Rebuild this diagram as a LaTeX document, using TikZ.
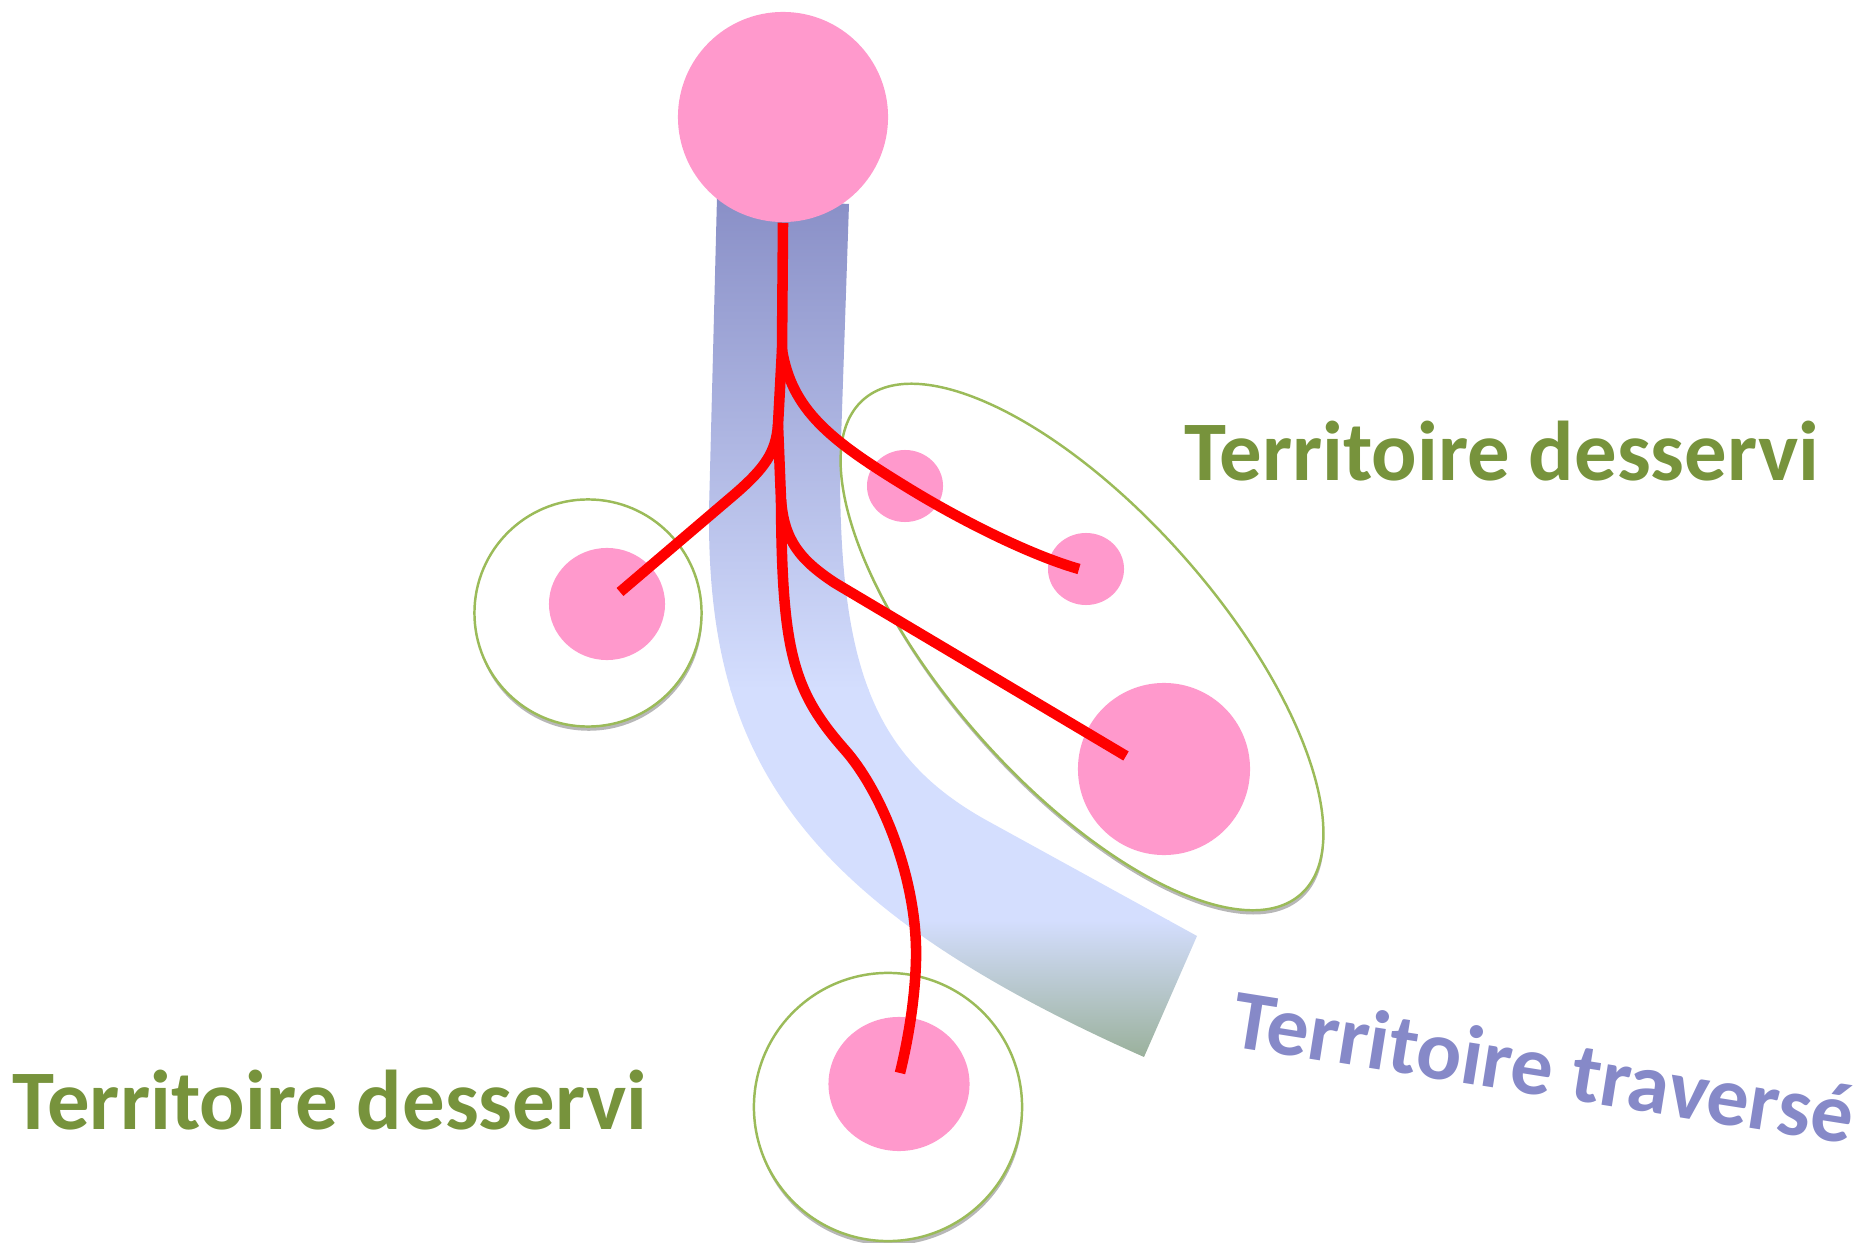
\documentclass[tikz,border=0pt]{standalone}
\usepackage{fontspec}
\usepackage{tikz}
\usetikzlibrary{shapes.geometric, shadows}
\newfontfamily\zonefont{Carlito}
\definecolor{polepink}{HTML}{FF99CC}
\definecolor{zonegreen}{HTML}{9BBB59}
\definecolor{textgreen}{HTML}{77933C}
\definecolor{textmauve}{HTML}{8689C8}
\definecolor{bandtop}{HTML}{888EC6}
\definecolor{bandmid}{HTML}{D4DEFE}
\definecolor{bandlow}{HTML}{97AE96}
\tikzset{
    hub/.style={circle, fill=polepink, inner sep=0pt, minimum size=2.1cm},
    pole/.style={ellipse, fill=polepink, inner sep=0pt},
    zone/.style={draw=zonegreen, line width=0.7pt, fill=white, inner sep=0pt,
        drop shadow={shadow xshift=0.2pt, shadow yshift=-1.2pt, opacity=0.4, fill=black!70}},
    link/.style={draw=red, line width=3pt, line join=round},
    zonetext/.style={inner sep=0pt, font=\zonefont\bfseries\fontsize{24.1}{29}\selectfont}
}

\begin{document}
\begin{tikzpicture}[x=0.01cm, y=-0.01cm]
        \useasboundingbox (0,0) rectangle (1863,1243);

        % Band
        \begin{scope}
            \clip (717,197) -- (709,510) .. controls (707,750) and (790,900) .. (1144,1057)
                -- (1197,936) -- (986,820) .. controls (875,758) and (840,670) .. (840,470)
                -- (849,204) -- cycle;
            \shade[top color=bandtop, bottom color=bandmid] (600,190) rectangle (1250,690);
            \fill[bandmid] (600,689) rectangle (1250,921);
            \shade[top color=bandmid, bottom color=bandlow] (600,920) rectangle (1250,1065);
        \end{scope}

        % Served areas
        \node[zone, circle, minimum size=2.27cm] (zoneW) at (588,613) {};
        \node[zone, circle, minimum size=2.68cm] (zoneS) at (888,1107) {};
        \node[zone, ellipse, minimum width=6.6cm, minimum height=2.72cm, rotate=-48.5] (zoneE) at (1082,647) {};

        % Poles
        \node[hub] (hub) at (783,117) {};
        \node[pole, minimum width=1.16cm, minimum height=1.12cm] (poleW) at (607,604) {};
        \node[pole, minimum width=1.41cm, minimum height=1.34cm] (poleS) at (899,1084) {};
        \node[pole, minimum width=0.76cm, minimum height=0.72cm] (poleE1) at (905,486) {};
        \node[pole, minimum width=0.76cm, minimum height=0.72cm] (poleE2) at (1086,569) {};
        \node[pole, minimum width=1.72cm, minimum height=1.72cm] (poleE3) at (1164,769) {};

        % Network
        \coordinate (jA) at (782,350);
        \coordinate (jB) at (778,425);
        \coordinate (jC) at (781,500);
        \coordinate (bend) at (845,750);
        \coordinate (endW) at (620,592);
        \coordinate (endE2) at (1079,569);
        \coordinate (endE3) at (1126,756);
        \coordinate (endS) at (900,1073);

        \draw[link] (hub.south) -- (jA) -- (jB) -- (jC)
            .. controls (782,650) and (792,690) .. (bend)
            .. controls (882,792) and (918,880) .. (916,960)
            .. controls (915,1000) and (908,1040) .. (endS);
        \draw[link] (jA) .. controls (792,410) and (830,440) .. (poleE1.center)
            .. controls (960,520) and (1030,555) .. (endE2);
        \draw[link] (jB) .. controls (776,452) and (765,468) .. (735,494) -- (endW);
        \draw[link] (jC) .. controls (784,540) and (800,560) .. (835,583) -- (endE3);

        % Labels
        \node[zonetext, text=textgreen, anchor=base west] (textE) at (1184,481) {Territoire desservi};
        \node[zonetext, text=textgreen, anchor=base west] (textW) at (12,1129) {Territoire desservi};
        \node[zonetext, text=textmauve, anchor=base west, rotate=-9, font=\zonefont\bfseries\fontsize{24}{29}\selectfont] (textT) at (1229,1046) {Territoire traversé};
\end{tikzpicture}
\end{document}
